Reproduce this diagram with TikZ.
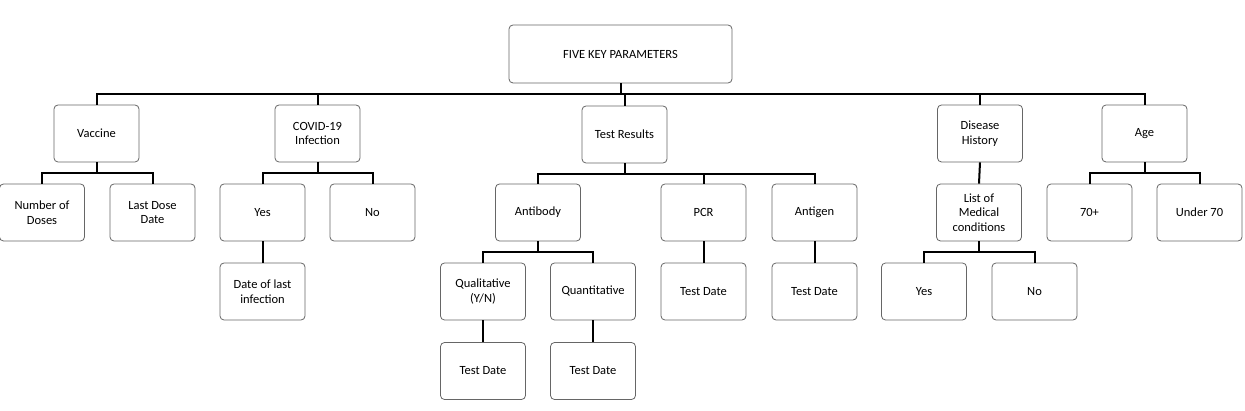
\documentclass[tikz,border=0pt]{standalone}
\usepackage{fontspec}
\setmainfont{Carlito}
\begin{document}
\begin{tikzpicture}[x=1pt,y=-1pt,
  box/.style={draw=black!60, line width=0.8pt, rounded corners=4pt, fill=white,
    minimum width=85pt, minimum height=57pt, inner sep=1pt, align=center,
    font=\fontsize{12.5}{14.5}\selectfont},
  conn/.style={draw=black, line width=2pt}]
\useasboundingbox (0,0) rectangle (1245,411);
% nodes
\node[box, minimum width=223pt, minimum height=58pt] (five) at (620.5,54) {FIVE KEY PARAMETERS};
\node[box] (vac) at (96.5,133.5) {Vaccine};
\node[box] (cov) at (317.5,133.5) {COVID-19\\Infection};
\node[box] (test) at (624.5,134.5) {Test Results};
\node[box] (dis) at (980,133.5) {Disease\\History};
\node[box] (age) at (1144.5,133.5) {Age};
\node[box] (nod) at (42,212.5) {Number of\\Doses};
\node[box] (ldd) at (152.5,212.5) {Last Dose\\Date};
\node[box] (cyes) at (262.5,212.5) {Yes};
\node[box] (cno) at (372.5,212.5) {No};
\node[box] (ab) at (538,212.5) {Antibody};
\node[box] (pcr) at (703.5,212.5) {PCR};
\node[box] (ag) at (814.5,212.5) {Antigen};
\node[box] (lmc) at (979,212.5) {List of\\Medical\\conditions};
\node[box] (o70) at (1089.5,212.5) {70+};
\node[box] (u70) at (1199.5,212.5) {Under 70};
\node[box] (dli) at (262.5,291.5) {Date of last\\infection};
\node[box] (qual) at (483,291.5) {Qualitative\\(Y/N)};
\node[box] (quan) at (593,291.5) {Quantitative};
\node[box] (pcrd) at (703.5,291.5) {Test Date};
\node[box] (agd) at (814.5,291.5) {Test Date};
\node[box] (dyes) at (924,291.5) {Yes};
\node[box] (dno) at (1034.5,291.5) {No};
\node[box] (quald) at (483,371) {Test Date};
\node[box] (quand) at (593,371) {Test Date};
% connectors
\foreach \c in {vac,cov,test,dis,age}
  \draw[conn] (five.south) -- ++(0,11) -| (\c.north);
\foreach \c in {nod,ldd}
  \draw[conn] (vac.south) -- ++(0,11) -| (\c.north);
\foreach \c in {cyes,cno}
  \draw[conn] (cov.south) -- ++(0,11) -| (\c.north);
\foreach \c in {ab,pcr,ag}
  \draw[conn] (test.south) -- ++(0,11) -| (\c.north);
\foreach \c in {o70,u70}
  \draw[conn] (age.south) -- ++(0,11) -| (\c.north);
\foreach \c in {qual,quan}
  \draw[conn] (ab.south) -- ++(0,11) -| (\c.north);
\foreach \c in {dyes,dno}
  \draw[conn] (lmc.south) -- ++(0,11) -| (\c.north);
\draw[conn] (dis.south) -- (lmc.north);
\draw[conn] (cyes.south) -- (dli.north);
\draw[conn] (pcr.south) -- (pcrd.north);
\draw[conn] (ag.south) -- (agd.north);
\draw[conn] (qual.south) -- (quald.north);
\draw[conn] (quan.south) -- (quand.north);
\end{tikzpicture}
\end{document}
